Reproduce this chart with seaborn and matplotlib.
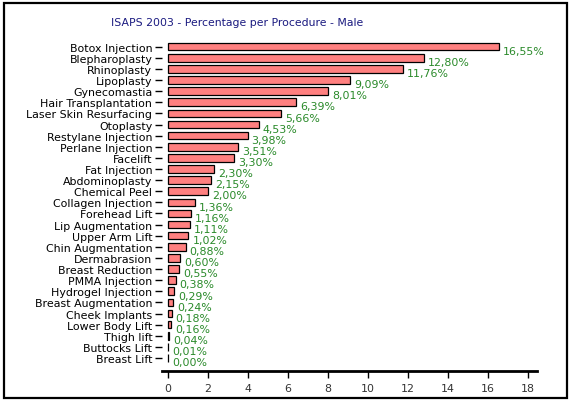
import matplotlib
matplotlib.use("Agg")
import matplotlib.pyplot as plt
import seaborn as sns
import pandas as pd
from matplotlib.patches import Rectangle

procedures = ["Botox Injection", "Blepharoplasty", "Rhinoplasty", "Lipoplasty",
              "Gynecomastia", "Hair Transplantation", "Laser Skin Resurfacing",
              "Otoplasty", "Restylane Injection", "Perlane Injection", "Facelift",
              "Fat Injection", "Abdominoplasty", "Chemical Peel", "Collagen Injection",
              "Forehead Lift", "Lip Augmentation", "Upper Arm Lift", "Chin Augmentation",
              "Dermabrasion", "Breast Reduction", "PMMA Injection", "Hydrogel Injection",
              "Breast Augmentation", "Cheek Implants", "Lower Body Lift", "Thigh lift",
              "Buttocks Lift", "Breast Lift"]
percentages = [16.55, 12.80, 11.76, 9.09, 8.01, 6.39, 5.66, 4.53, 3.98, 3.51, 3.30,
               2.30, 2.15, 2.00, 1.36, 1.16, 1.11, 1.02, 0.88, 0.60, 0.55, 0.38,
               0.29, 0.24, 0.18, 0.16, 0.04, 0.01, 0.00]
x_ticks = [0, 2, 4, 6, 8, 10, 12, 14, 16, 18]
title = "ISAPS 2003 - Percentage per Procedure - Male"

df = pd.DataFrame({"procedure": procedures, "pct": percentages})

sns.set_theme(style="white")
plt.rcParams["font.family"] = ["DejaVu Sans"]

fig = plt.figure(figsize=(5.70, 4.02), dpi=100)
ax = fig.add_axes([162 / 570, 1 - 372 / 402, (537 - 162) / 570, (372 - 41) / 402])

sns.barplot(data=df, x="pct", y="procedure", orient="h", color="#FF8080",
            saturation=1, width=0.68, edgecolor="black", linewidth=0.9, ax=ax)

for i, v in enumerate(percentages):
    ax.text(v + 0.2, i + 0.38, f"{v:.2f}%".replace(".", ","), color="#2a8a2a",
            fontsize=7.9, va="center", ha="left")

ax.set_xlim(-0.3, 18.45)
ax.set_ylim(len(procedures) - 1 + 1.17, -0.6)
ax.set_xticks(x_ticks)
ax.set_xticklabels([str(t) for t in x_ticks])
ax.set_xlabel("")
ax.set_ylabel("")
for s in ["top", "right", "left"]:
    ax.spines[s].set_visible(False)
ax.spines["bottom"].set_linewidth(2.0)
ax.spines["bottom"].set_color("black")
ax.tick_params(axis="x", direction="out", length=5, width=1, color="black",
               labelsize=7.9, pad=4, bottom=True)
ax.tick_params(axis="y", direction="out", length=5, width=1, color="black",
               labelsize=7.9, pad=2, left=True)
for lbl in ax.get_yticklabels():
    lbl.set_color("black")
for lbl in ax.get_xticklabels():
    lbl.set_color("#333333")

fig.text(237 / 570, 1 - 23 / 402, title, ha="center", va="center",
         color="#1a1a80", fontsize=7.8)

fig.patches.append(Rectangle((3.5 / 570, 3.5 / 402), 563 / 570, 395 / 402,
                             transform=fig.transFigure, fill=False,
                             edgecolor="black", linewidth=1.6))

fig.savefig("out.png", dpi=100)
